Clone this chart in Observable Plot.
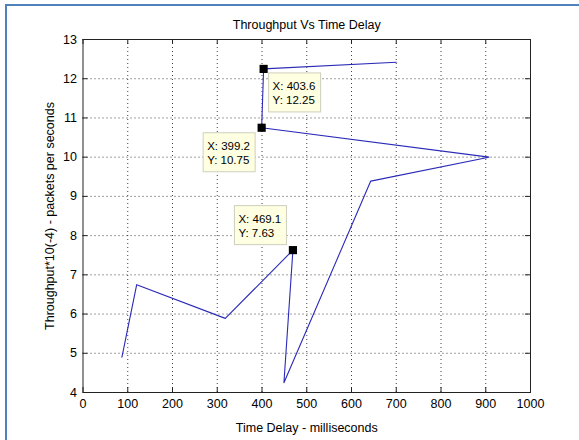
<!DOCTYPE html>
<html>
<head>
<meta charset="utf-8">
<script src="https://cdn.jsdelivr.net/npm/d3@7"></script>
<script src="https://cdn.jsdelivr.net/npm/@observablehq/plot@0.6"></script>
<style>
  html, body { margin: 0; padding: 0; background: #fff; }
  #wrap { position: relative; width: 579px; height: 440px; overflow: hidden; }
  #border { position: absolute; left: 5px; top: 4px; width: 580px; height: 440px;
            border-top: 2px solid #4f81bd; border-left: 2px solid #4f81bd; box-sizing: border-box; }
  #chart { position: absolute; left: 0; top: 0; }
</style>
</head>
<body>
<div id="wrap"><div id="border"></div><div id="chart"></div></div>
<script>
// ---- data ----
const timeDelay  = [87, 120, 318, 469.1, 449, 643, 907, 399.2, 403.6, 700];
const throughput = [4.9, 6.75, 5.89, 7.63, 4.25, 9.39, 10.0, 10.75, 12.25, 12.42];
const tipX = [403.6, 399.2, 469.1];
const tipY = [12.25, 10.75, 7.63];
const xTicks = [0, 100, 200, 300, 400, 500, 600, 700, 800, 900, 1000];
const yTicks = [4, 5, 6, 7, 8, 9, 10, 11, 12, 13];
const titleText = "Throughput Vs Time Delay";
const xLabel = "Time Delay - milliseconds";
const yLabel = "Throughput*10(-4) - packets per seconds";

const pts = timeDelay.map((x, i) => ({x, y: throughput[i]}));
const tips = tipX.map((x, i) => ({x, y: tipY[i]}));

const W = 579, H = 440, mL = 82.5, mR = 49, mT = 39, mB = 48;
const pw = W - mL - mR, ph = H - mT - mB;
const font = "'Liberation Sans', Arial, Helvetica, sans-serif";

const plot = Plot.plot({
  width: W, height: H,
  marginLeft: mL, marginRight: mR, marginTop: mT, marginBottom: mB,
  style: {fontFamily: font, fontSize: "12.5px", color: "#000", background: "transparent"},
  x: {domain: [0, 1000], label: null},
  y: {domain: [4, 13], label: null},
  marks: [
    Plot.gridX(xTicks.slice(1, -1), {stroke: "#000", strokeOpacity: 0.75, strokeDasharray: "1,3"}),
    Plot.gridY(yTicks.slice(1, -1), {stroke: "#000", strokeOpacity: 0.75, strokeDasharray: "1,3"}),
    // inward ticks on all four sides
    Plot.ruleX(xTicks, {x: d => d, insetTop: ph - 5, stroke: "#222"}),
    Plot.ruleX(xTicks, {x: d => d, insetBottom: ph - 5, stroke: "#222"}),
    Plot.ruleY(yTicks, {y: d => d, insetRight: pw - 5, stroke: "#222"}),
    Plot.ruleY(yTicks, {y: d => d, insetLeft: pw - 5, stroke: "#222"}),
    Plot.frame({stroke: "#222"}),
    Plot.axisX(xTicks, {tickSize: 0, tickPadding: 7, fontSize: 12.5, label: null, tickFormat: d => String(d)}),
    Plot.axisY(yTicks, {tickSize: 0, tickPadding: 6, fontSize: 12.5, label: null, tickFormat: d => String(d)}),
    Plot.line(pts, {x: "x", y: "y", stroke: "#2a2ab8", strokeWidth: 1.1}),
    Plot.dot(tips, {x: "x", y: "y", symbol: "square", r: 4.6, fill: "#000", stroke: "none"}),
    Plot.text([titleText], {frameAnchor: "top", text: d => d, dy: -15, fontSize: 12.5, lineAnchor: "middle", textAnchor: "middle"}),
    Plot.text([xLabel], {frameAnchor: "bottom", text: d => d, dy: 35, fontSize: 12.5, lineAnchor: "middle", textAnchor: "middle"}),
    Plot.text([yLabel], {frameAnchor: "left", text: d => d, dx: -33, rotate: -90, fontSize: 12.5, lineAnchor: "middle", textAnchor: "middle"})
  ]
});

document.getElementById("chart").appendChild(plot);

// data tips (MATLAB style), placed relative to the scaled marker position
const sx = plot.scale("x"), sy = plot.scale("y");
const bw = 52, bh = 39;
const place = [
  (mx, my) => [mx + 5.5, my + 4.5],
  (mx, my) => [mx - 58, my + 5.5],
  (mx, my) => [mx - 58, my - 44]
];
const g = d3.select(plot).append("g")
  .attr("font-family", font).attr("font-size", "11.5px").attr("text-anchor", "start");
tips.forEach((t, i) => {
  const mx = sx.apply(t.x), my = sy.apply(t.y);
  const [bx, by] = place[i](mx, my);
  g.append("rect").attr("x", bx).attr("y", by).attr("width", bw).attr("height", bh)
    .attr("fill", "#ffffe1").attr("stroke", "#cfcfbf");
  g.append("text").attr("x", bx + 4).attr("y", by + 17).attr("text-anchor", "start")
    .attr("fill", "#000").text("X: " + t.x.toFixed(1));
  g.append("text").attr("x", bx + 4).attr("y", by + 31).attr("text-anchor", "start")
    .attr("fill", "#000").text("Y: " + t.y.toFixed(2));
});
</script>
</body>
</html>
